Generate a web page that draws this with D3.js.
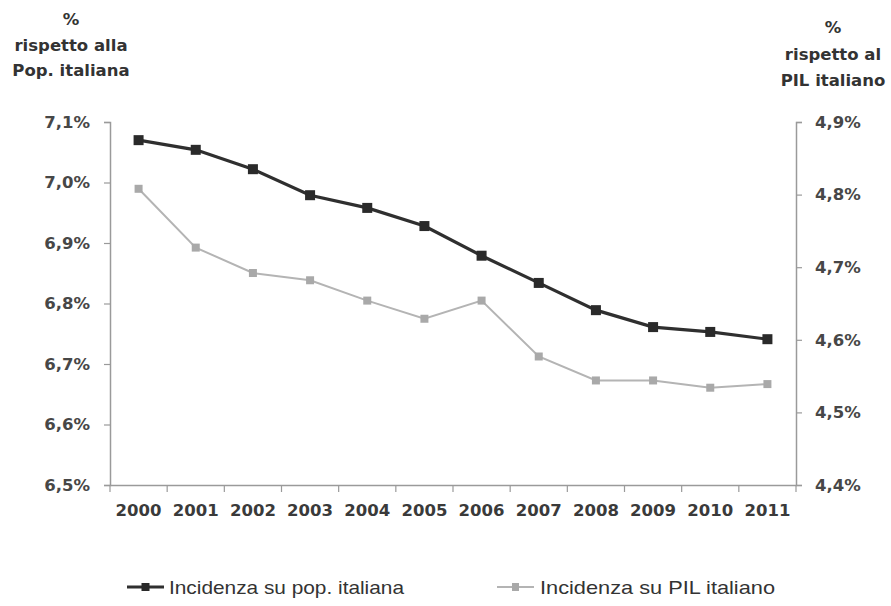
<!DOCTYPE html>
<html>
<head>
<meta charset="utf-8">
<script src="https://cdn.jsdelivr.net/npm/d3@7"></script>
<style>
  html, body { margin: 0; padding: 0; background: #fff; }
  svg { display: block; }
</style>
</head>
<body>
<svg id="chart" width="891" height="606"></svg>
<script>
// Incidenza: % rispetto alla popolazione (asse sinistro) e al PIL (asse destro)
const years = ["2000","2001","2002","2003","2004","2005","2006","2007","2008","2009","2010","2011"];
const popValues = [7.070, 7.054, 7.022, 6.979, 6.958, 6.928, 6.879, 6.834, 6.789, 6.761, 6.753, 6.741];
const pilValues = [4.808, 4.727, 4.692, 4.682, 4.654, 4.629, 4.654, 4.577, 4.544, 4.544, 4.534, 4.539];
const leftTicks = [6.5, 6.6, 6.7, 6.8, 6.9, 7.0, 7.1];
const rightTicks = [4.4, 4.5, 4.6, 4.7, 4.8, 4.9];
const leftTitle = ["%", "rispetto alla", "Pop. italiana"];
const rightTitle = ["%", "rispetto al", "PIL italiano"];
const legendLabels = ["Incidenza su pop. italiana", "Incidenza su PIL italiano"];

const svg = d3.select("#chart");
const box = { left: 110, right: 796, top: 122, bottom: 485 };

const it = d3.formatLocale({ decimal: ",", thousands: ".", grouping: [3], currency: ["", "€"] });
const pct = v => it.format(".1f")(v) + "%";

const x = d3.scaleBand().domain(years).range([box.left, box.right]).paddingInner(0).paddingOuter(0);
const yL = d3.scaleLinear().domain([6.5, 7.1]).range([box.bottom, box.top]);
const yR = d3.scaleLinear().domain([4.4, 4.9]).range([box.bottom, box.top]);

const axisColor = "#9a9a9a";
const tickFont = "'DejaVu Sans', Verdana, sans-serif";

// Left axis
const gL = svg.append("g").attr("transform", `translate(${box.left},0)`)
  .call(d3.axisLeft(yL).tickValues(leftTicks).tickFormat(pct).tickSize(6).tickPadding(14));
// Right axis
const gR = svg.append("g").attr("transform", `translate(${box.right},0)`)
  .call(d3.axisRight(yR).tickValues(rightTicks).tickFormat(pct).tickSize(6).tickPadding(13));

[gL, gR].forEach(g => {
  g.select(".domain").attr("stroke", axisColor).attr("stroke-width", 1.5);
  g.selectAll(".tick line").attr("stroke", axisColor).attr("stroke-width", 1.2);
  g.selectAll(".tick text")
    .attr("font-family", tickFont).attr("font-size", 16.5).attr("font-weight", "bold")
    .attr("fill", "#474747");
});

// Bottom axis: labels centred in each band, ticks on band boundaries
const gX = svg.append("g").attr("transform", `translate(0,${box.bottom})`)
  .call(d3.axisBottom(x).tickSize(0).tickPadding(22));
gX.select(".domain").attr("stroke", axisColor).attr("stroke-width", 1.5);
gX.selectAll(".tick text")
  .attr("font-family", tickFont).attr("font-size", 16.5).attr("font-weight", "bold")
  .attr("fill", "#3a3a3a").attr("dy", "0.55em");
const bounds = years.map(d => x(d)).concat([box.right]);
gX.selectAll("line.bound").data(bounds).join("line").attr("class", "bound")
  .attr("x1", d => d).attr("x2", d => d).attr("y1", 0).attr("y2", 7)
  .attr("stroke", axisColor).attr("stroke-width", 1.2);

const cx = d => x(d) + x.bandwidth() / 2;

// Serie PIL (grigio chiaro, asse destro)
const pilData = years.map((d, i) => ({ year: d, v: pilValues[i] }));
svg.append("path").datum(pilData)
  .attr("fill", "none").attr("stroke", "#b4b4b4").attr("stroke-width", 2)
  .attr("d", d3.line().x(d => cx(d.year)).y(d => yR(d.v)));
svg.selectAll("rect.pil").data(pilData).join("rect").attr("class", "pil")
  .attr("x", d => cx(d.year) - 4).attr("y", d => yR(d.v) - 4)
  .attr("width", 8).attr("height", 8).attr("fill", "#a9a9a9");

// Serie popolazione (scura, asse sinistro)
const popData = years.map((d, i) => ({ year: d, v: popValues[i] }));
svg.append("path").datum(popData)
  .attr("fill", "none").attr("stroke", "#2f2f2f").attr("stroke-width", 3.2)
  .attr("d", d3.line().x(d => cx(d.year)).y(d => yL(d.v)));
svg.selectAll("rect.pop").data(popData).join("rect").attr("class", "pop")
  .attr("x", d => cx(d.year) - 5).attr("y", d => yL(d.v) - 5)
  .attr("width", 10).attr("height", 10).attr("fill", "#2a2a2a");

// Axis titles
const titleFont = "'DejaVu Sans', Verdana, sans-serif";
svg.append("text").attr("x", 71).attr("text-anchor", "middle")
  .attr("font-family", titleFont).attr("font-size", 16.5).attr("font-weight", "bold").attr("fill", "#333")
  .selectAll("tspan").data(leftTitle).join("tspan")
  .attr("x", 71).attr("y", (d, i) => 25 + i * 25.5).text(d => d);
svg.append("text").attr("x", 833).attr("text-anchor", "middle")
  .attr("font-family", titleFont).attr("font-size", 16.5).attr("font-weight", "bold").attr("fill", "#333")
  .selectAll("tspan").data(rightTitle).join("tspan")
  .attr("x", 833).attr("y", (d, i) => 33 + i * 26.5).text(d => d);

// Legend
const legendItems = [
  { label: legendLabels[0], x0: 127, x1: 164, tx: 169, stroke: "#2f2f2f", sw: 3, fill: "#2a2a2a", size: 8 },
  { label: legendLabels[1], x0: 497, x1: 534, tx: 540, stroke: "#b4b4b4", sw: 2, fill: "#a9a9a9", size: 7 }
];
const ly = 587;
const lg = svg.append("g").selectAll("g").data(legendItems).join("g");
lg.append("line").attr("x1", d => d.x0).attr("x2", d => d.x1).attr("y1", ly).attr("y2", ly)
  .attr("stroke", d => d.stroke).attr("stroke-width", d => d.sw);
lg.append("rect").attr("x", d => (d.x0 + d.x1) / 2 - d.size / 2).attr("y", ly - 4)
  .attr("width", d => d.size).attr("height", 8).attr("fill", d => d.fill);
lg.append("text").attr("x", d => d.tx).attr("y", ly + 7)
  .attr("font-family", "'Liberation Sans', Arial, sans-serif").attr("font-size", 18.5)
  .attr("fill", "#333").attr("textLength", 235).attr("lengthAdjust", "spacingAndGlyphs")
  .text(d => d.label);
</script>
</body>
</html>
